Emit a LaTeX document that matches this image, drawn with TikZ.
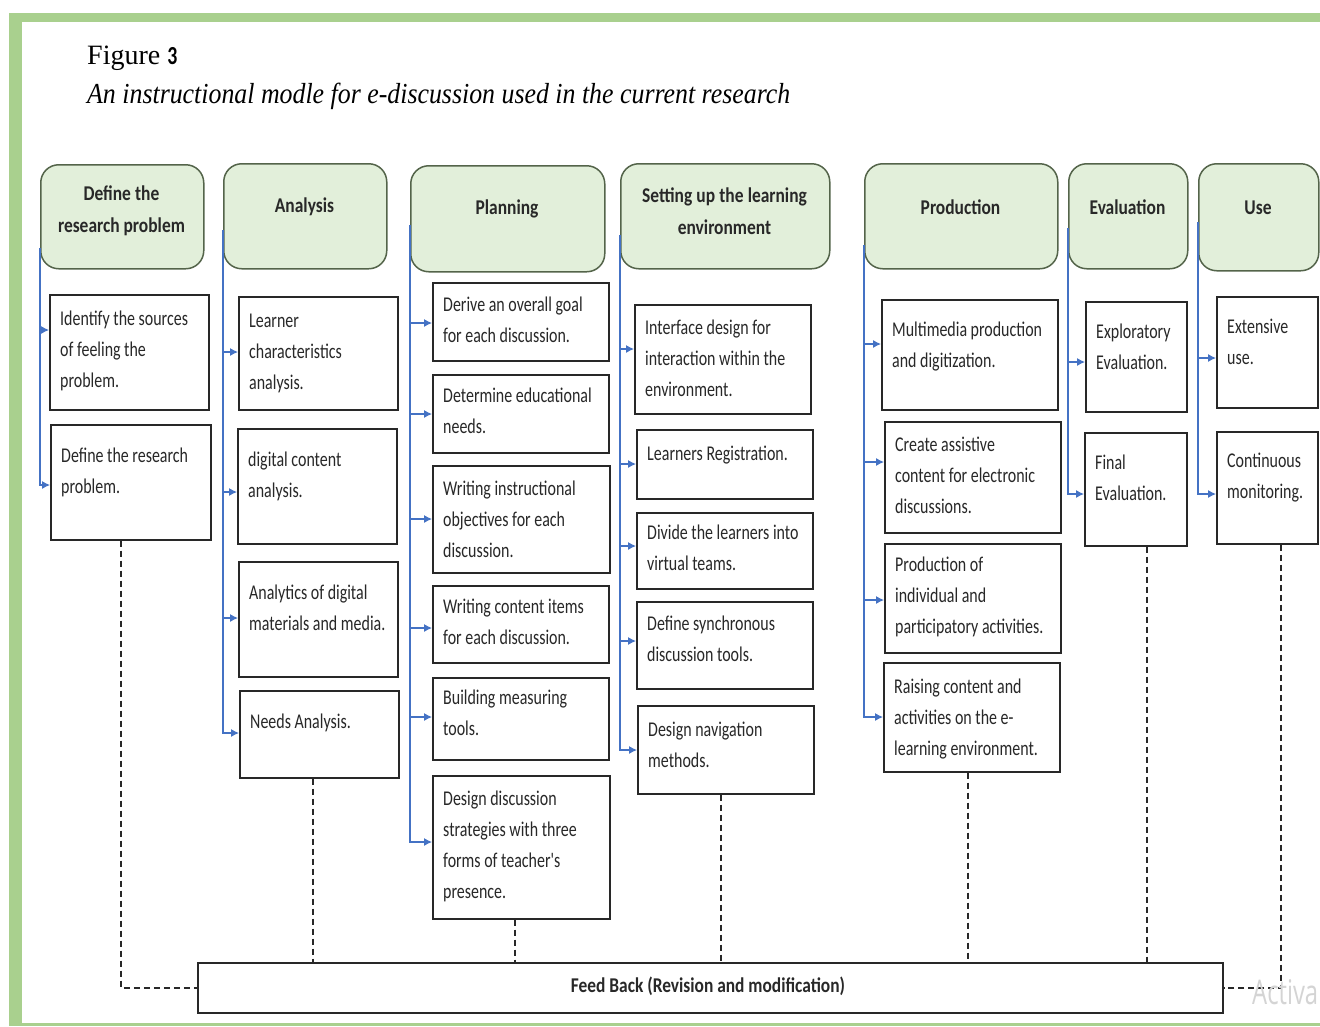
\documentclass[tikz,border=0pt]{standalone}
\usepackage{fontspec}
\usepackage{graphicx}
\setmainfont{Carlito}
\newfontfamily\bodyf[FakeStretch=0.76]{Carlito}
\newfontfamily\headf[FakeStretch=0.83]{Carlito}
\newfontfamily\titlef{Liberation Serif}
\usetikzlibrary{arrows.meta}
\definecolor{gband}{RGB}{169,208,142}
\definecolor{hfill}{RGB}{226,239,218}
\definecolor{hdraw}{RGB}{84,100,74}
\definecolor{lblue}{RGB}{68,114,196}
\definecolor{bdraw}{RGB}{40,40,40}
\definecolor{wmark}{RGB}{212,212,212}
\newcommand\bodyfont{\bodyf\fontsize{21}{31}\selectfont}
\newcommand\headfont{\headf\bfseries\fontsize{21}{32}\selectfont}
\tikzset{
  hdr/.style={draw=hdraw, fill=hfill, line width=1.5pt, rounded corners=18pt},
  htext/.style={font=\headfont, align=center, text=bdraw, inner sep=0pt},
  cbox/.style={draw=bdraw, line width=1.7pt, fill=white},
  ctext/.style={font=\bodyfont, align=left, text=bdraw, inner sep=0pt},
  bline/.style={draw=lblue, line width=1.1pt},
  arr/.style={bline, -{Latex[length=8pt,width=8pt]}},
  dline/.style={draw=bdraw, line width=1.4pt, dash pattern=on 6pt off 4pt},
}
% header: name x1 y1 x2 y2 ytext text
\newcommand\hb[7]{%
  \pgfmathsetmacro\hbw{#4-#2}\pgfmathsetmacro\hbh{#5-#3}%
  \pgfmathsetmacro\hbx{(#2+#4)/2}%
  \node[hdr, anchor=north west, minimum width=\hbw pt, minimum height=\hbh pt] (#1) at (#2,#3) {};
  \node[htext] (#1t) at (\hbx,#6) {\spaceskip=4.2pt\relax #7};
}
% child box: name x1 y1 x2 y2 yfirstline text
\newcommand\cb[7]{%
  \pgfmathsetmacro\cbw{#4-#2}\pgfmathsetmacro\cbh{#5-#3}%
  \pgfmathsetmacro\cbt{#4-#2-12}\pgfmathsetmacro\cbx{#2+11}\pgfmathsetmacro\cby{#6-14.7}%
  \node[cbox, anchor=north west, minimum width=\cbw pt, minimum height=\cbh pt] (#1) at (#2,#3) {};
  \node[ctext, anchor=north west, text width=\cbt pt] (#1t) at (\cbx,\cby) {\spaceskip=3.6pt\relax\xspaceskip=3.6pt\relax\strut #7};
}
\begin{document}
\begin{tikzpicture}[x=1pt,y=-1pt]
\useasboundingbox (0,0) rectangle (1320,1026);
\fill[white] (0,0) rectangle (1320,1026);
% green frame
\fill[gband] (9,13) rectangle (1320,22);
\fill[gband] (9,13) rectangle (22,1026);
\fill[gband] (9,1023) rectangle (1320,1026);

% title
\node[anchor=base west, inner sep=0pt] (fig) at (87,64) {\titlef\fontsize{28}{32}\selectfont Figure \bodyf\bfseries\fontsize{26}{28}\selectfont 3};
\node[anchor=base west, inner sep=0pt] (sub) at (87,103) {\resizebox{703pt}{\height}{\titlef\itshape\fontsize{29}{34}\selectfont An instructional modle for e-discussion used in the current research}};

% headers
\hb{h1}{40}{164}{203}{268}{211}{Define the\\research problem}
\hb{h2}{223}{163}{386}{268}{207}{Analysis}
\hb{h3}{410}{165}{604}{271}{209}{Planning}
\hb{h4}{620}{163}{829}{268}{211}{Setting up the learning\\environment}
\hb{h5}{864}{163}{1057}{268}{207}{Production}
\hb{h6}{1068}{163}{1187}{268}{207}{Evaluation}
\hb{h7}{1198}{163}{1318}{270}{208}{Use}

% column 1
\cb{c11}{49}{294}{208}{409}{318}{Identify the sources\\of feeling the\\problem.}
\cb{c12}{50}{424}{210}{539}{455}{Define the research\\problem.}
% column 2
\cb{c21}{238}{296}{397}{409}{320}{Learner\\characteristics\\analysis.}
\cb{c22}{237}{428}{396}{543}{459}{digital content\\analysis.}
\cb{c23}{238}{561}{397}{676}{592}{Analytics of digital\\materials and media.}
\cb{c24}{239}{690}{398}{777}{721}{Needs Analysis.}
% column 3
\cb{c31}{432}{282}{608}{360}{304}{Derive an overall goal\\for each discussion.}
\cb{c32}{432}{374}{608}{452}{395}{Determine educational\\needs.}
\cb{c33}{432}{465}{609}{572}{488}{Writing instructional\\objectives for each\\discussion.}
\cb{c34}{432}{585}{608}{662}{606}{Writing content items\\for each discussion.}
\cb{c35}{432}{677}{608}{759}{697}{Building measuring\\tools.}
\cb{c36}{432}{775}{609}{918}{798}{Design discussion\\strategies with three\\forms of teacher's\\presence.}
% column 4
\cb{c41}{634}{304}{810}{413}{327}{Interface design for\\interaction within the\\environment.}
\cb{c42}{636}{429}{812}{498}{453}{Learners Registration.}
\cb{c43}{636}{512}{812}{588}{532}{Divide the learners into\\virtual teams.}
\cb{c44}{636}{601}{812}{688}{623}{Define synchronous\\discussion tools.}
\cb{c45}{637}{705}{813}{793}{729}{Design navigation\\methods.}
% column 5
\cb{c51}{881}{299}{1057}{409}{329}{Multimedia production\\and digitization.}
\cb{c52}{884}{421}{1060}{532}{444}{Create assistive\\content for electronic\\discussions.}
\cb{c53}{884}{543}{1060}{652}{564}{Production of\\individual and\\participatory activities.}
\cb{c54}{883}{662}{1059}{771}{686}{Raising content and\\activities on the e-\\learning environment.}
% column 6
\cb{c61}{1085}{301}{1186}{411}{331}{Exploratory\\Evaluation.}
\cb{c62}{1084}{432}{1186}{545}{462}{Final\\Evaluation.}
% column 7
\cb{c71}{1216}{296}{1317}{407}{326}{Extensive\\use.}
\cb{c72}{1216}{431}{1317}{543}{460}{Continuous\\monitoring.}

% feedback box
\node[cbox, anchor=north west, minimum width=1025pt, minimum height=50pt] (fb) at (197,962) {};
\node[inner sep=0pt, text=bdraw] (fbt) at (708,986) {\resizebox{274pt}{\height}{\bfseries\fontsize{21}{25}\selectfont Feed Back (Revision and modification)}};

% blue trunks and arrows
\draw[arr] (h1.south west |- 0,248) |- (c12.west |- 0,485);
\draw[arr] (h1.south west |- 0,330) -- (c11.west |- 0,330);

\draw[arr] (h2.south west |- 0,230) |- (c24.west |- 0,733);
\draw[arr] (h2.south west |- 0,352) -- (c21.west |- 0,352);
\draw[arr] (h2.south west |- 0,492) -- (c22.west |- 0,492);
\draw[arr] (h2.south west |- 0,618) -- (c23.west |- 0,618);

\draw[arr] (h3.south west |- 0,225) |- (c36.west |- 0,842);
\draw[arr] (h3.south west |- 0,323) -- (c31.west |- 0,323);
\draw[arr] (h3.south west |- 0,414) -- (c32.west |- 0,414);
\draw[arr] (h3.south west |- 0,519) -- (c33.west |- 0,519);
\draw[arr] (h3.south west |- 0,628) -- (c34.west |- 0,628);
\draw[arr] (h3.south west |- 0,717) -- (c35.west |- 0,717);

\draw[arr] (h4.south west |- 0,235) |- (c45.west |- 0,750);
\draw[arr] (h4.south west |- 0,349) -- (c41.west |- 0,349);
\draw[arr] (h4.south west |- 0,464) -- (c42.west |- 0,464);
\draw[arr] (h4.south west |- 0,546) -- (c43.west |- 0,546);
\draw[arr] (h4.south west |- 0,641) -- (c44.west |- 0,641);

\draw[arr] (h5.south west |- 0,245) |- (c54.west |- 0,717);
\draw[arr] (h5.south west |- 0,344) -- (c51.west |- 0,344);
\draw[arr] (h5.south west |- 0,462) -- (c52.west |- 0,462);
\draw[arr] (h5.south west |- 0,600) -- (c53.west |- 0,600);

\draw[arr] (h6.south west |- 0,228) |- (c62.west |- 0,494);
\draw[arr] (h6.south west |- 0,362) -- (c61.west |- 0,362);

\draw[arr] (h7.south west |- 0,222) |- (c72.west |- 0,494);
\draw[arr] (h7.south west |- 0,358) -- (c71.west |- 0,358);

% dashed feedback connectors
\draw[dline] (c12.south -| 121,0) |- (fb.west);
\draw[dline] (c24.south -| 313,0) -- (fb.north -| 313,0);
\draw[dline] (c36.south -| 515,0) -- (fb.north -| 515,0);
\draw[dline] (c45.south -| 721,0) -- (fb.north -| 721,0);
\draw[dline] (c54.south -| 968,0) -- (fb.north -| 968,0);
\draw[dline] (c62.south -| 1147,0) -- (fb.north -| 1147,0);
\draw[dline] (c72.south -| 1281,0) |- (fb.east);

% watermark fragment
\node[anchor=base west, inner sep=0pt, text=wmark] (wm) at (1252,1004) {\resizebox{66pt}{\height}{\fontspec{Open Sans}\fontsize{34}{38}\selectfont Activa}};
\end{tikzpicture}
\end{document}
